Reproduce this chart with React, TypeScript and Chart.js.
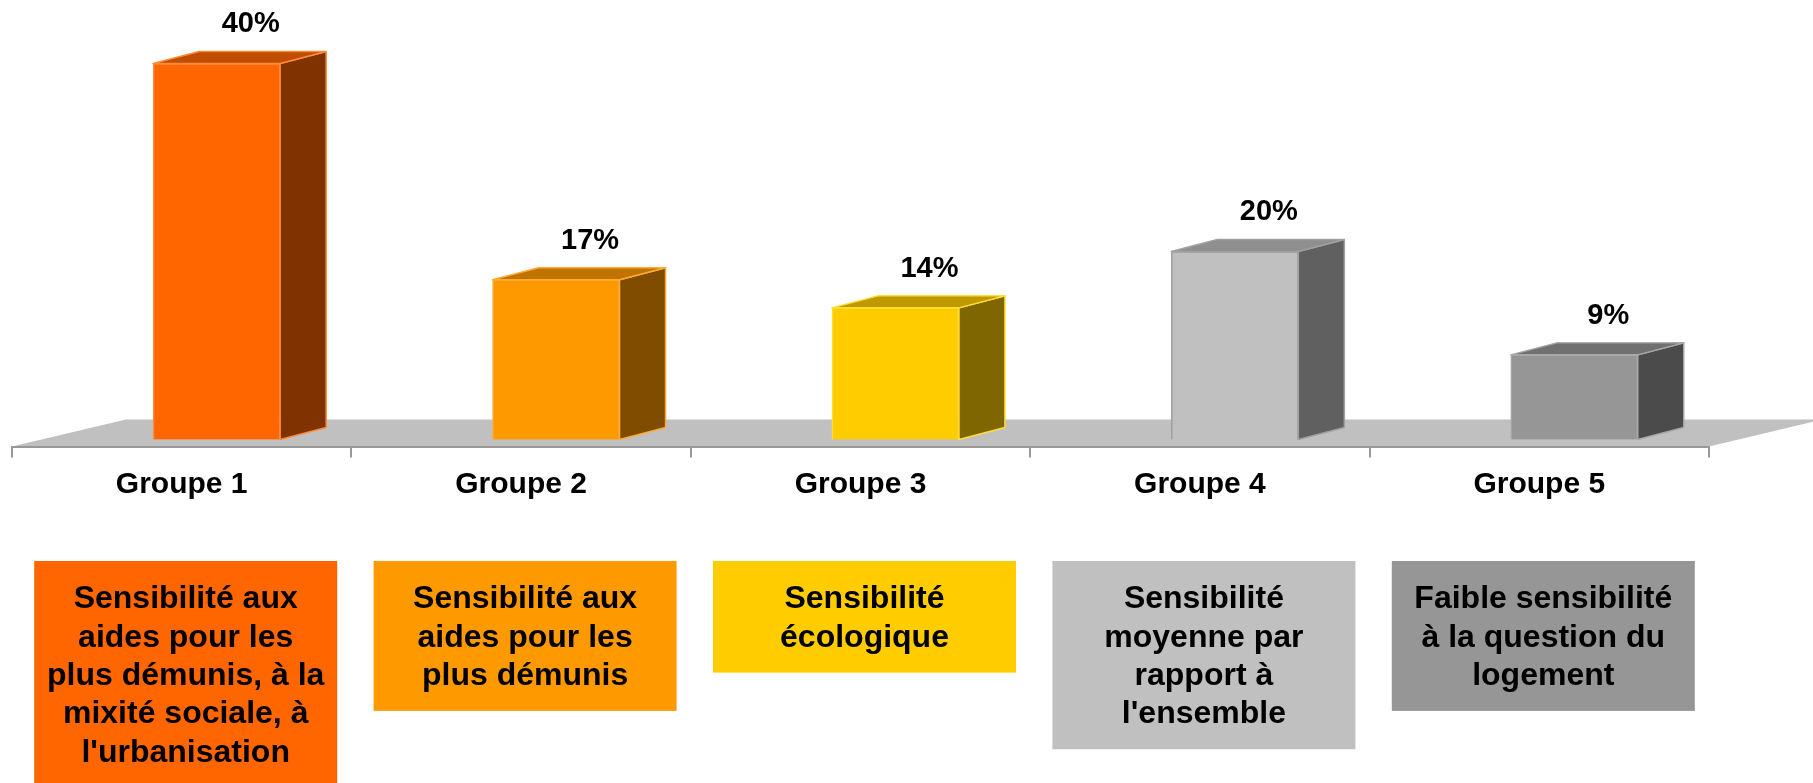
import React, { useEffect, useRef } from 'react';
import { Chart, registerables } from 'chart.js';

Chart.register(...registerables);

const categories = ['Groupe 1', 'Groupe 2', 'Groupe 3', 'Groupe 4', 'Groupe 5'];
const shares = [40, 17, 14, 20, 9];
const shareLabels = ['40%', '17%', '14%', '20%', '9%'];
const frontColors = ['#FF6600', '#FF9900', '#FFCC00', '#C0C0C0', '#969696'];
const topColors = ['#C04D00', '#C07300', '#C09900', '#8F8F8F', '#707070'];
const sideColors = ['#803300', '#804D00', '#806600', '#606060', '#4B4B4B'];
const edgeColors = ['#FF8A3D', '#FFAA33', '#FFDD33', '#A0A0A0', '#A8A8A8'];
const boxColors = ['#FF6600', '#FF9900', '#FFCC00', '#C0C0C0', '#969696'];
const boxTexts = [
  ['Sensibilité aux', 'aides pour les', 'plus démunis, à la', 'mixité sociale, à', "l'urbanisation"],
  ['Sensibilité aux', 'aides pour les', 'plus démunis'],
  ['Sensibilité', 'écologique'],
  ['Sensibilité', 'moyenne par', 'rapport à', "l'ensemble"],
  ['Faible sensibilité', 'à la question du', 'logement'],
];

const W = 1813;
const H = 783;
const FAMILY = '"Liberation Sans", Arial, Helvetica, sans-serif';
const DEPTH_X = 46;
const DEPTH_Y = -12;
const FLOOR_DX = 114;
const FLOOR_DY = -27;
const BAR_SHIFT = 0.103;
const AXIS_Y = 446.5;

const floorPlugin = {
  id: 'floor3d',
  beforeDraw(chart: any) {
    const { ctx, chartArea } = chart;
    const { left, right, bottom } = chartArea;
    ctx.save();
    ctx.fillStyle = '#C0C0C0';
    ctx.beginPath();
    ctx.moveTo(left, bottom);
    ctx.lineTo(right, bottom);
    ctx.lineTo(right + FLOOR_DX, bottom + FLOOR_DY);
    ctx.lineTo(left + FLOOR_DX, bottom + FLOOR_DY);
    ctx.closePath();
    ctx.fill();
    ctx.restore();
  },
};

const barsPlugin = {
  id: 'bars3d',
  afterDatasetsDraw(chart: any) {
    const { ctx } = chart;
    const meta = chart.getDatasetMeta(0);
    ctx.save();
    ctx.lineJoin = 'round';
    meta.data.forEach((el: any, i: number) => {
      const { x, y, base, width } = el.getProps(['x', 'y', 'base', 'width'], true);
      const l = x - width / 2;
      const r = x + width / 2;
      ctx.lineWidth = 1.5;
      ctx.strokeStyle = edgeColors[i];
      // side face
      ctx.fillStyle = sideColors[i];
      ctx.beginPath();
      ctx.moveTo(r, y);
      ctx.lineTo(r + DEPTH_X, y + DEPTH_Y);
      ctx.lineTo(r + DEPTH_X, base + DEPTH_Y);
      ctx.lineTo(r, base);
      ctx.closePath();
      ctx.fill();
      ctx.stroke();
      // top face
      ctx.fillStyle = topColors[i];
      ctx.beginPath();
      ctx.moveTo(l, y);
      ctx.lineTo(l + DEPTH_X, y + DEPTH_Y);
      ctx.lineTo(r + DEPTH_X, y + DEPTH_Y);
      ctx.lineTo(r, y);
      ctx.closePath();
      ctx.fill();
      ctx.stroke();
      // value label
      ctx.fillStyle = '#000000';
      ctx.font = `bold 29px ${FAMILY}`;
      ctx.textAlign = 'center';
      ctx.textBaseline = 'middle';
      ctx.fillText(shareLabels[i], x + 34, y - 39);
    });
    ctx.restore();
  },
};

const boxesPlugin = {
  id: 'boxes',
  afterDraw(chart: any) {
    const { ctx } = chart;
    const xs = chart.scales.x;
    const lineH = 38.3;
    const top = 561;
    const bw = 303;
    ctx.save();
    boxTexts.forEach((lines, i) => {
      const cx = xs.getPixelForValue(i) + 4;
      const h = lines.length * lineH + 35;
      ctx.fillStyle = boxColors[i];
      ctx.fillRect(cx - bw / 2, top, bw, h);
      ctx.fillStyle = '#000000';
      ctx.font = `bold 32px ${FAMILY}`;
      ctx.textAlign = 'center';
      ctx.textBaseline = 'middle';
      const mid = top + h / 2 + 2;
      lines.forEach((t, j) => {
        ctx.fillText(t, cx, mid + (j - (lines.length - 1) / 2) * lineH);
      });
    });
    ctx.restore();
  },
};

export default function App() {
  const ref = useRef<HTMLCanvasElement | null>(null);
  useEffect(() => {
    if (!ref.current) return;
    const chart = new Chart(ref.current, {
      type: 'bar',
      data: {
        labels: categories,
        datasets: [
          {
            data: shares.map((v, i) => ({ x: i, y: v })) as any,
            xAxisID: 'xb',
            yAxisID: 'y',
            backgroundColor: frontColors,
            borderColor: edgeColors,
            borderWidth: 1.5,
            barThickness: 127,
          } as any,
        ],
      },
      options: {
        animation: false,
        responsive: false,
        maintainAspectRatio: false,
        layout: { padding: { left: 12, right: 104, top: 16, bottom: 0 } },
        plugins: {
          legend: { display: false },
          tooltip: { enabled: false },
          title: { display: false },
        },
        scales: {
          x: {
            type: 'category',
            offset: true,
            grid: {
              offset: true,
              drawOnChartArea: false,
              drawTicks: true,
              tickLength: 11,
              color: '#999999',
              lineWidth: 2,
            },
            border: { display: true, color: '#999999', width: 2 },
            ticks: {
              color: '#000000',
              font: { family: FAMILY, size: 30, weight: 'bold' },
              padding: 9,
              maxRotation: 0,
              minRotation: 0,
              autoSkip: false,
            },
            afterFit: (s: any) => {
              s.height = H - AXIS_Y;
            },
          },
          xb: {
            type: 'linear',
            display: false,
            offset: false,
            grid: { offset: false },
            min: -0.5 - BAR_SHIFT,
            max: 4.5 - BAR_SHIFT,
          },
          y: {
            type: 'linear',
            display: false,
            min: -0.75,
            max: 45.05,
          },
        } as any,
      },
      plugins: [floorPlugin, barsPlugin, boxesPlugin],
    });
    return () => chart.destroy();
  }, []);
  return (
    <div style={{ position: 'fixed', left: 0, top: 0, width: W, height: H, background: '#ffffff' }}>
      <canvas ref={ref} width={W} height={H} style={{ display: 'block', width: W, height: H }} />
    </div>
  );
}
